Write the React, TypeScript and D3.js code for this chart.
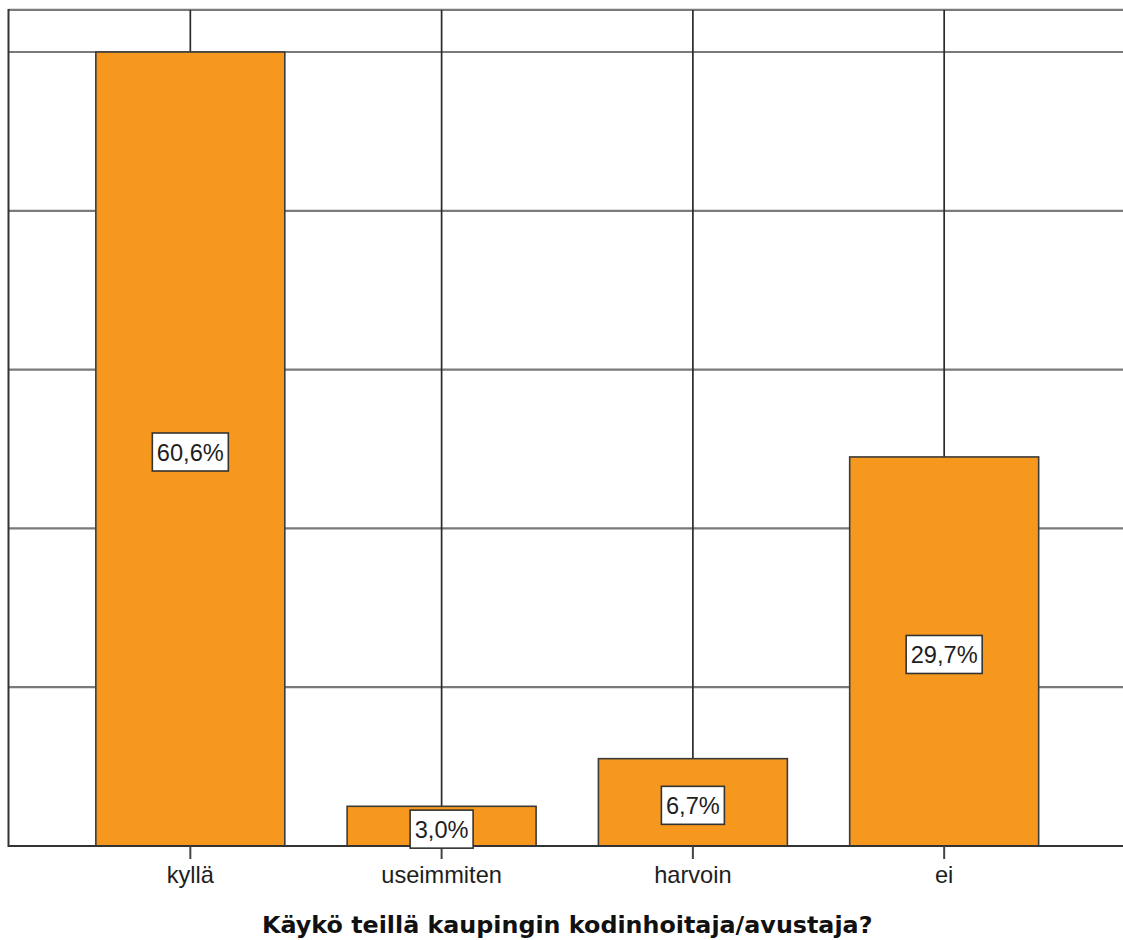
import React from "react";
import * as d3 from "d3";

// Answers to the question, as counts of respondents
const categories = ["kyllä", "useimmiten", "harvoin", "ei"];
const counts = [100, 5, 11, 49];
const gridValues = [20, 40, 60, 80, 100];
const title = "Käykö teillä kaupingin kodinhoitaja/avustaja?";

const W = 1123;
const H = 940;
const left = 8.5;
const right = 1126;
const baseY = 846;
const topY = 52;

const BAR_FILL = "#f7981e";
const BAR_STROKE = "#3b3b3b";

export default function App() {
  const total = d3.sum(counts);
  const x = d3.scalePoint<string>().domain(categories).range([left, right]).padding(0.7236);
  const y = d3.scaleLinear().domain([0, 100]).range([baseY, topY]);
  const frameTop = y(105.3);
  const barW = x.step() * 0.752;
  const fmt = (c: number) => d3.format(".1f")((c / total) * 100).replace(".", ",") + "%";

  const labelFont = "'Liberation Sans', Arial, sans-serif";

  return (
    <svg
      width={W}
      height={H}
      style={{ position: "absolute", left: 0, top: 0, display: "block", background: "#fff" }}
    >
      {/* top frame line */}
      <line x1={left} x2={W} y1={frameTop} y2={frameTop} stroke="#7a7a7a" strokeWidth={2.2} />
      {/* horizontal gridlines */}
      {gridValues.map((v) => (
        <line key={v} x1={left} x2={W} y1={y(v)} y2={y(v)} stroke="#7a7a7a" strokeWidth={2.2} />
      ))}
      {/* vertical gridlines at category centres */}
      {categories.map((c) => (
        <line key={c} x1={x(c)} x2={x(c)} y1={frameTop} y2={baseY} stroke="#2a2a2a" strokeWidth={1.7} />
      ))}
      {/* bars */}
      {categories.map((c, i) => (
        <rect
          key={c}
          x={(x(c) as number) - barW / 2}
          y={y(counts[i])}
          width={barW}
          height={baseY - y(counts[i])}
          fill={BAR_FILL}
          stroke={BAR_STROKE}
          strokeWidth={1.6}
        />
      ))}
      {/* axes */}
      <line x1={left} x2={left} y1={frameTop - 1} y2={baseY + 1} stroke="#333" strokeWidth={2} />
      <line x1={left} x2={W} y1={baseY} y2={baseY} stroke="#333" strokeWidth={2} />
      {categories.map((c) => (
        <line key={c} x1={x(c)} x2={x(c)} y1={baseY} y2={baseY + 13} stroke="#444" strokeWidth={2} />
      ))}
      {categories.map((c) => (
        <text
          key={c}
          x={x(c)}
          y={883}
          textAnchor="middle"
          fontFamily={labelFont}
          fontSize={23.6}
          fill="#1e1e1e"
        >
          {c}
        </text>
      ))}
      {/* value labels */}
      {categories.map((c, i) => {
        const label = fmt(counts[i]);
        const cy = (y(counts[i]) + baseY) / 2 + 3;
        const bw = label.length === 5 ? 76 : 63;
        const bh = 38;
        return (
          <g key={c}>
            <rect
              x={(x(c) as number) - bw / 2}
              y={cy - bh / 2}
              width={bw}
              height={bh}
              fill="#fff"
              stroke="#333"
              strokeWidth={1.6}
            />
            <text
              x={x(c)}
              y={cy + 8.5}
              textAnchor="middle"
              fontFamily={labelFont}
              fontSize={23.6}
              fill="#1e1e1e"
            >
              {label}
            </text>
          </g>
        );
      })}
      {/* axis title */}
      <text
        x={(left + right) / 2}
        y={932.5}
        textAnchor="middle"
        fontFamily="'DejaVu Sans', sans-serif"
        fontWeight="bold"
        fontSize={23.8}
        fill="#111"
      >
        {title}
      </text>
    </svg>
  );
}
